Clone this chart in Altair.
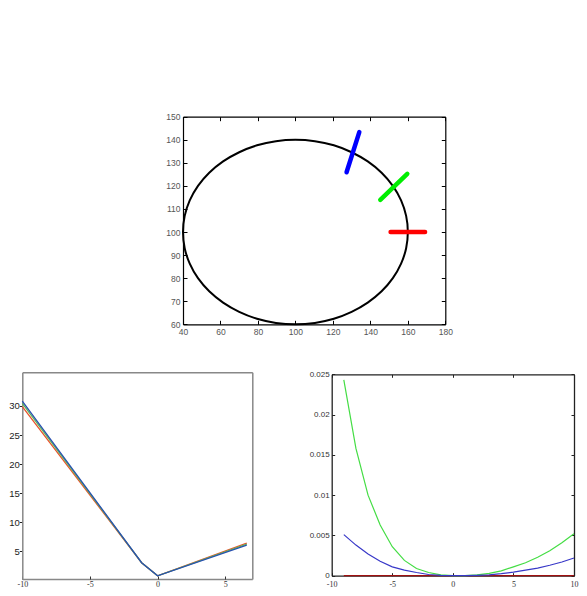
import altair as alt
import pandas as pd

# ---------------- data ----------------
# top panel: ellipse (closed curve, 10-degree steps) and three normal segments
ell_x = [160, 159.1, 156.4, 152.0, 146.0, 138.6, 130, 120.5, 110.4, 100,
         89.6, 79.5, 70, 61.4, 54.0, 48.0, 43.6, 40.9, 40,
         40.9, 43.6, 48.0, 54.0, 61.4, 70, 79.5, 89.6, 100,
         110.4, 120.5, 130, 138.6, 146.0, 152.0, 156.4, 159.1]
ell_y = [100, 107.0, 113.7, 120, 125.7, 130.6, 134.6, 137.6, 139.4, 140,
         139.4, 137.6, 134.6, 130.6, 125.7, 120, 113.7, 107.0, 100,
         93.0, 86.3, 80, 74.3, 69.4, 65.4, 62.4, 60.6, 60,
         60.6, 62.4, 65.4, 69.4, 74.3, 80, 86.3, 93.0]

seg_names = ["blue", "blue", "green", "green", "red", "red"]
seg_x = [127.3, 134.1, 145.3, 159.7, 150.8, 169.2]
seg_y = [125.9, 143.3, 113.9, 125.2, 100, 100]

top_xticks = [40, 60, 80, 100, 120, 140, 160, 180]
top_yticks = [60, 70, 80, 90, 100, 110, 120, 130, 140, 150]

# bottom-left panel
bl_x = [-10, -1.18, 0, 6.59]
bl_red = [29.9, 3.0, 0.76, 6.39]
bl_green = [30.45, 3.0, 0.76, 6.22]
bl_blue = [30.85, 3.0, 0.76, 6.05]
bl_xticks = [-10, -5, 0, 5]
bl_yticks = [5, 10, 15, 20, 25, 30]

# bottom-right panel
br_x = [-9, -8, -7, -6, -5, -4, -3, -2, -1, 0, 1, 2, 3, 4, 5, 6, 7, 8, 9, 10]
br_green = [0.0243, 0.0158, 0.0100, 0.0063, 0.0036, 0.0019, 0.0009, 0.0004, 0.0001, 0.00001,
            0.00002, 0.0001, 0.0003, 0.0006, 0.0011, 0.0016, 0.0023, 0.0031, 0.0041, 0.0052]
br_blue = [0.0051, 0.0038, 0.0027, 0.0018, 0.0011, 0.0007, 0.0004, 0.00015, 0.00004, 0.0,
           0.00001, 0.00004, 0.0001, 0.00025, 0.00045, 0.0007, 0.00095, 0.0013, 0.0017, 0.0022]
br_red = [0.0] * 20
br_xticks = [-10, -5, 0, 5, 10]
br_yticks = [0, 0.005, 0.01, 0.015, 0.02, 0.025]

SANS = "Liberation Sans"
SERIF = "Liberation Serif"
HYPHEN = "datum.value < 0 ? '-' + (-datum.value) : '' + datum.value"

# ---------------- page geometry (pixel boxes of the three panels) ----------------
W, H = 587, 596
TOP = dict(x0=183, x1=445.3, y0=116.7, y1=324.3)
BL = dict(x0=22.3, x1=252.3, y0=372.3, y1=579)
BR = dict(x0=331.7, x1=574, y0=374.3, y1=575.7)


def sc(domain, rng):
    return alt.Scale(domain=domain, range=rng, nice=False, zero=False)


def ax(orient, pos, **kw):
    """axis whose line sits at pixel position pos (x for left/right, y for top/bottom)"""
    if orient == "bottom":
        off = pos - H
    elif orient == "top":
        off = -pos
    elif orient == "left":
        off = -pos
    else:
        off = pos - W
    base = dict(orient=orient, offset=off, grid=False, title=None, labelFlush=False,
                labelOverlap=False, domain=False, ticks=False, labels=False)
    base.update(kw)
    return alt.Axis(**base)


def ghost(df, xs, ys, xaxis, yaxis):
    return alt.Chart(df).mark_point(opacity=0).encode(
        x=alt.X("x:Q", scale=xs, axis=xaxis),
        y=alt.Y("y:Q", scale=ys, axis=yaxis),
    )


# ---------------- top panel ----------------
ell_df = pd.DataFrame({"x": ell_x, "y": ell_y, "i": list(range(len(ell_x)))})
seg_df = pd.DataFrame({"s": seg_names, "x": seg_x, "y": seg_y})

txs = sc([40, 180], [TOP["x0"], TOP["x1"]])
tys = sc([60, 150], [TOP["y1"], TOP["y0"]])
tt = 4
tick_top = dict(ticks=True, tickSize=tt, tickColor="#000", tickWidth=1)
lab_top = dict(labels=True, labelFont=SANS, labelFontSize=8.5, labelColor="#555", labelPadding=3)

ell = alt.Chart(ell_df).mark_line(color="black", strokeWidth=2, interpolate="cardinal-closed").encode(
    x=alt.X("x:Q", scale=txs, axis=ax("bottom", TOP["y1"] - tt, values=top_xticks, **tick_top, **lab_top)),
    y=alt.Y("y:Q", scale=tys, axis=ax("left", TOP["x0"] + tt, values=top_yticks, **tick_top, **lab_top)),
    order="i:Q",
)
segs = alt.Chart(seg_df).mark_line(strokeWidth=4.5, strokeCap="round").encode(
    x=alt.X("x:Q", scale=txs, axis=None),
    y=alt.Y("y:Q", scale=tys, axis=None),
    color=alt.Color("s:N", scale=alt.Scale(domain=["blue", "green", "red"],
                                            range=["#0000ff", "#00ee00", "#ff0000"]), legend=None),
    detail="s:N",
)
top_ticks2 = ghost(ell_df, txs, tys,
                   ax("top", TOP["y0"] + tt, values=top_xticks, **tick_top),
                   ax("right", TOP["x1"] - tt, values=top_yticks, **tick_top))
fr_top = dict(domain=True, domainColor="#000", domainWidth=1.2)
top_frame1 = ghost(ell_df, txs, tys, ax("bottom", TOP["y1"], **fr_top), ax("left", TOP["x0"], **fr_top))
top_frame2 = ghost(ell_df, txs, tys, ax("top", TOP["y0"], **fr_top), ax("right", TOP["x1"], **fr_top))

# ---------------- bottom-left panel ----------------
bl_rows = []
for name, vals in [("a_red", bl_red), ("b_green", bl_green), ("c_blue", bl_blue)]:
    for xv, yv in zip(bl_x, vals):
        bl_rows.append({"s": name, "x": xv, "y": yv})
bl_df = pd.DataFrame(bl_rows)

blxs = sc([-10, 7], [BL["x0"], BL["x1"]])
blys = sc([0.2, 35.8], [BL["y1"], BL["y0"]])
fr_bl = dict(domain=True, domainColor="#888", domainWidth=1.5)

bl_lines = alt.Chart(bl_df).mark_line(strokeWidth=1.3).encode(
    x=alt.X("x:Q", scale=blxs,
            axis=ax("bottom", BL["y1"] - 3, values=bl_xticks, ticks=True, tickSize=3, tickColor="#333",
                    labels=True, labelFont=SERIF, labelFontSize=8, labelColor="#333",
                    labelPadding=1, labelExpr=HYPHEN)),
    y=alt.Y("y:Q", scale=blys,
            axis=ax("left", BL["x0"], values=bl_yticks, ticks=True, tickSize=3, tickColor="#222",
                    labels=True, labelFont=SANS, labelFontSize=9.5, labelColor="#222",
                    labelPadding=0, **fr_bl)),
    color=alt.Color("s:N", scale=alt.Scale(domain=["a_red", "b_green", "c_blue"],
                                            range=["#e8542c", "#5cb85c", "#2850b0"]), legend=None),
)
bl_frame1 = ghost(bl_df, blxs, blys, ax("bottom", BL["y1"], **fr_bl), ax("right", BL["x1"], **fr_bl))
bl_frame2 = ghost(bl_df, blxs, blys, ax("top", BL["y0"], **fr_bl), None)

# ---------------- bottom-right panel ----------------
br_rows = []
for name, vals in [("a_red", br_red), ("b_green", br_green), ("c_blue", br_blue)]:
    for xv, yv in zip(br_x, vals):
        br_rows.append({"s": name, "x": xv, "y": yv})
br_df = pd.DataFrame(br_rows)

brxs = sc([-10, 10], [BR["x0"], BR["x1"]])
brys = sc([0, 0.025], [BR["y1"], BR["y0"]])
tick_br = dict(ticks=True, tickSize=3, tickColor="#222", tickWidth=1)
fr_br = dict(domain=True, domainColor="#222", domainWidth=1.3)

br_frame1 = ghost(br_df, brxs, brys, ax("bottom", BR["y1"], **fr_br), ax("left", BR["x0"], **fr_br))
br_frame2 = ghost(br_df, brxs, brys, ax("top", BR["y0"], **fr_br), ax("right", BR["x1"], **fr_br))
br_lines = alt.Chart(br_df).mark_line(strokeWidth=1.2).encode(
    x=alt.X("x:Q", scale=brxs,
            axis=ax("bottom", BR["y1"] - 3, values=br_xticks, **tick_br, labels=True, labelFont=SERIF,
                    labelFontSize=8, labelColor="#333", labelPadding=4.5, labelExpr=HYPHEN)),
    y=alt.Y("y:Q", scale=brys,
            axis=ax("left", BR["x0"] + 3, values=br_yticks, **tick_br, labels=True, format="~g",
                    labelFont=SANS, labelFontSize=8, labelColor="#333", labelPadding=2.5)),
    color=alt.Color("s:N", scale=alt.Scale(domain=["a_red", "b_green", "c_blue"],
                                            range=["#a01010", "#44dd44", "#3838c8"]), legend=None),
)
br_ticks2 = ghost(br_df, brxs, brys,
                  ax("top", BR["y0"] + 3, values=br_xticks, **tick_br),
                  ax("right", BR["x1"] - 3, values=br_yticks, **tick_br))

# ---------------- one canvas ----------------
chart = alt.layer(
    top_frame1, top_frame2, ell, segs, top_ticks2,
    bl_frame1, bl_frame2, bl_lines,
    br_frame1, br_frame2, br_lines, br_ticks2,
).resolve_scale(x="independent", y="independent", color="independent").properties(
    width=W, height=H,
    padding={"left": 0, "top": 0, "right": 0, "bottom": 0},
    autosize=alt.AutoSizeParams(type="none"),
    background="white",
).configure_view(stroke=None)

chart.save("out.html", embed_options={"renderer": "svg", "actions": False})
